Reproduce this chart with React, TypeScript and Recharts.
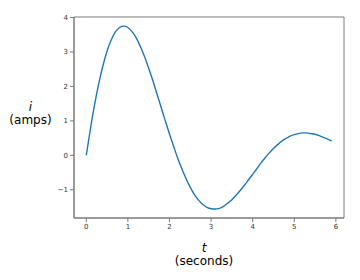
import { LineChart, Line, XAxis, YAxis, ReferenceArea } from 'recharts'

// time samples (seconds) and current readings (amps)
const times = [
  0, 0.1, 0.2, 0.3, 0.4, 0.5, 0.6, 0.7, 0.8, 0.9,
  1.0, 1.1, 1.2, 1.3, 1.4, 1.5, 1.6, 1.7, 1.8, 1.9,
  2.0, 2.1, 2.2, 2.3, 2.4, 2.5, 2.6, 2.7, 2.8, 2.9,
  3.0, 3.1, 3.2, 3.3, 3.4, 3.5, 3.6, 3.7, 3.8, 3.9,
  4.0, 4.1, 4.2, 4.3, 4.4, 4.5, 4.6, 4.7, 4.8, 4.9,
  5.0, 5.1, 5.2, 5.3, 5.4, 5.5, 5.6, 5.7, 5.8, 5.9,
]
const amps = [
  0, 0.77, 1.47, 2.08, 2.6, 3.03, 3.35, 3.58, 3.71, 3.75,
  3.71, 3.59, 3.41, 3.16, 2.87, 2.53, 2.17, 1.78, 1.39, 1.0,
  0.62, 0.26, -0.09, -0.4, -0.68, -0.93, -1.14, -1.3, -1.43, -1.51,
  -1.55, -1.56, -1.54, -1.48, -1.39, -1.29, -1.16, -1.02, -0.87, -0.71,
  -0.55, -0.39, -0.22, -0.07, 0.07, 0.2, 0.31, 0.41, 0.49, 0.56,
  0.6, 0.63, 0.65, 0.65, 0.63, 0.61, 0.57, 0.52, 0.47, 0.41,
]
const xTicks = [0, 1, 2, 3, 4, 5, 6]
const yTicks = [-1, 0, 1, 2, 3, 4]

const data = times.map((t, i) => ({ t, i: amps[i] }))

const X_DOMAIN: [number, number] = [-0.295, 6.195]
const Y_DOMAIN: [number, number] = [-1.82, 4.015]

const AXIS = '#7a7a7a'
const TICK = { fill: '#333', fontSize: 7, fontFamily: 'DejaVu Sans' }
const LABEL_FONT = 'DejaVu Sans'

const fmt = (v: number) => (v < 0 ? `\u2212${Math.abs(v)}` : `${v}`)

function YLabel() {
  return (
    <g fontFamily={LABEL_FONT} fontSize={12} fill="#000" textAnchor="middle">
      <text x={30.5} y={111} fontStyle="italic">i</text>
      <text x={30.5} y={124}>(amps)</text>
    </g>
  )
}

function XLabel() {
  return (
    <g fontFamily={LABEL_FONT} fontSize={12} fill="#000" textAnchor="middle">
      <text x={204} y={252} fontStyle="italic">t</text>
      <text x={204} y={265}>(seconds)</text>
    </g>
  )
}

export default function App() {
  return (
    <div style={{ position: 'absolute', left: 0, top: 0, width: 360, height: 280, background: '#fff' }}>
      <LineChart width={360} height={280} data={data} margin={{ top: 17, right: 16, bottom: 32, left: 0 }}>
        <XAxis
          dataKey="t"
          type="number"
          domain={X_DOMAIN}
          ticks={xTicks}
          tickFormatter={fmt}
          height={30}
          stroke={AXIS}
          tick={TICK}
          tickSize={4}
          tickMargin={2}
          allowDataOverflow
          label={<XLabel />}
        />
        <YAxis
          type="number"
          domain={Y_DOMAIN}
          ticks={yTicks}
          tickFormatter={fmt}
          width={74}
          stroke={AXIS}
          tick={TICK}
          tickSize={4}
          tickMargin={2}
          allowDataOverflow
          label={<YLabel />}
        />
        {/* axes frame (matplotlib-style spines on all four sides) */}
        <ReferenceArea
          x1={X_DOMAIN[0]}
          x2={X_DOMAIN[1]}
          y1={Y_DOMAIN[0]}
          y2={Y_DOMAIN[1]}
          fill="none"
          stroke={AXIS}
          strokeWidth={1}
          ifOverflow="visible"
        />
        <Line
          dataKey="i"
          type="monotone"
          stroke="#1f77b4"
          strokeWidth={1.4}
          dot={false}
          isAnimationActive={false}
        />
      </LineChart>
    </div>
  )
}
